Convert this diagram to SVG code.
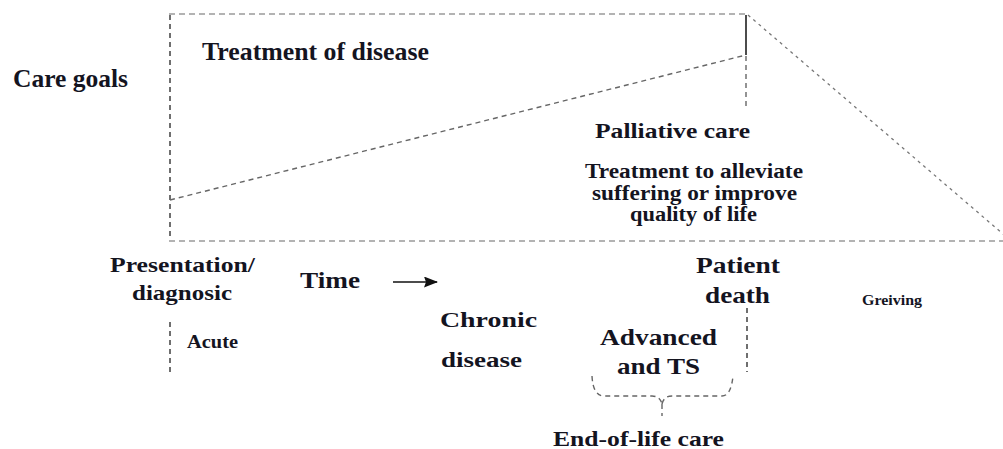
<svg xmlns="http://www.w3.org/2000/svg" width="1003" height="449" viewBox="0 0 1003 449">
<defs>
  <marker id="arrow" markerWidth="14" markerHeight="11" refX="13" refY="5.5" orient="auto" markerUnits="userSpaceOnUse">
    <polygon points="0,0 14,5.5 0,11 2,5.5" fill="#111"/>
  </marker>
</defs>
<rect width="1003" height="449" fill="#fff"/>

<g id="connectors" fill="none">
  <g stroke="#9a9a9a" stroke-width="1.6" stroke-dasharray="6 4">
    <line x1="169" y1="14" x2="746" y2="14"/>
    <line x1="169" y1="241" x2="1003" y2="241"/>
  </g>
  <g stroke="#333" stroke-width="1.4" stroke-dasharray="5 4">
    <line x1="170" y1="15" x2="170" y2="240"/>
    <line x1="170" y1="322" x2="170" y2="373"/>
    <line x1="747" y1="308" x2="747" y2="372"/>
  </g>
  <g stroke="#666" stroke-width="1.4" stroke-dasharray="5 4">
    <line x1="170" y1="200" x2="746" y2="55"/>
    <line x1="746" y1="56" x2="746" y2="107"/>
    <path d="M592,376 Q593,396 604,396 L652,396 Q660,396 662,404 M662,404 L662,416 M662,404 Q664,396 672,396 L722,396 Q731,396 733,376"/>
  </g>
  <line x1="748" y1="15" x2="1010" y2="240" stroke="#777" stroke-width="1.3" stroke-dasharray="3 4"/>
  <line x1="746" y1="15" x2="746" y2="55" stroke="#111" stroke-width="1.5"/>
  <line x1="393" y1="282" x2="437" y2="282" stroke="#111" stroke-width="1.6" marker-end="url(#arrow)"/>
</g>

<g id="care-goals"><text x="13" y="87" font-family="Liberation Serif" font-weight="bold" fill="#14141f" font-size="25" textLength="115" lengthAdjust="spacingAndGlyphs">Care goals</text></g>
<g id="treatment-of-disease"><text x="202" y="60" font-family="Liberation Serif" font-weight="bold" fill="#14141f" font-size="25" textLength="227" lengthAdjust="spacingAndGlyphs">Treatment of disease</text></g>
<g id="palliative-care" font-family="Liberation Serif" font-weight="bold" fill="#14141f">
  <text x="595" y="138" font-size="22" textLength="155" lengthAdjust="spacingAndGlyphs">Palliative care</text>
  <text x="585" y="178" font-size="20" textLength="218" lengthAdjust="spacingAndGlyphs">Treatment to alleviate</text>
  <text x="592" y="200" font-size="20" textLength="205" lengthAdjust="spacingAndGlyphs">suffering or improve</text>
  <text x="630" y="221" font-size="20" textLength="127" lengthAdjust="spacingAndGlyphs">quality of life</text>
</g>
<g id="presentation" font-family="Liberation Serif" font-weight="bold" fill="#14141f">
  <text x="110" y="272" font-size="22" textLength="145" lengthAdjust="spacingAndGlyphs">Presentation/</text>
  <text x="132" y="300" font-size="22" textLength="100" lengthAdjust="spacingAndGlyphs">diagnosic</text>
</g>
<g id="time"><text x="300" y="288" font-family="Liberation Serif" font-weight="bold" fill="#14141f" font-size="24" textLength="60" lengthAdjust="spacingAndGlyphs">Time</text></g>
<g id="acute"><text x="187" y="348" font-family="Liberation Serif" font-weight="bold" fill="#14141f" font-size="19" textLength="51" lengthAdjust="spacingAndGlyphs">Acute</text></g>
<g id="chronic" font-family="Liberation Serif" font-weight="bold" fill="#14141f">
  <text x="440" y="327" font-size="22" textLength="97" lengthAdjust="spacingAndGlyphs">Chronic</text>
  <text x="441" y="367" font-size="22" textLength="81" lengthAdjust="spacingAndGlyphs">disease</text>
</g>
<g id="advanced" font-family="Liberation Serif" font-weight="bold" fill="#14141f">
  <text x="600" y="345" font-size="24" textLength="117" lengthAdjust="spacingAndGlyphs">Advanced</text>
  <text x="617" y="374" font-size="24" textLength="83" lengthAdjust="spacingAndGlyphs">and TS</text>
</g>
<g id="patient-death" font-family="Liberation Serif" font-weight="bold" fill="#14141f">
  <text x="696" y="273" font-size="24" textLength="84" lengthAdjust="spacingAndGlyphs">Patient</text>
  <text x="705" y="303" font-size="24" textLength="65" lengthAdjust="spacingAndGlyphs">death</text>
</g>
<g id="greiving"><text x="862" y="305" font-family="Liberation Serif" font-weight="bold" fill="#14141f" font-size="15" textLength="60" lengthAdjust="spacingAndGlyphs">Greiving</text></g>
<g id="end-of-life"><text x="553" y="446" font-family="Liberation Serif" font-weight="bold" fill="#14141f" font-size="21" textLength="171" lengthAdjust="spacingAndGlyphs">End-of-life care</text></g>
</svg>
